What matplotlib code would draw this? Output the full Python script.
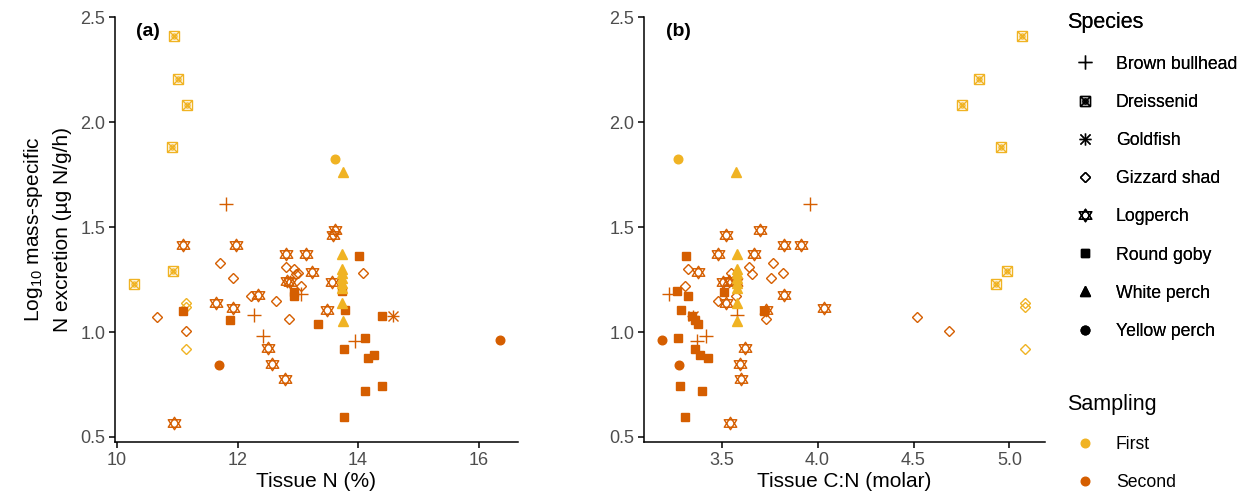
import numpy as np
import matplotlib.pyplot as plt
from matplotlib.lines import Line2D
from matplotlib.path import Path

plt.rcParams['font.family'] = ['Liberation Sans', 'DejaVu Sans']

# each species: tissue N (%), tissue C:N (molar), log10 N excretion, sampling (1 first, 2 second)
bullhead_n = [11.81, 12.27, 12.43, 13.06, 13.95]
bullhead_cn = [3.96, 3.58, 3.42, 3.225, 3.37]
bullhead_exc = [1.61, 1.08, 0.98, 1.18, 0.957]
bullhead_samp = [2, 2, 2, 2, 2]

dreissenid_n = [10.945, 11.01, 11.16, 10.91, 10.93, 10.29]
dreissenid_cn = [5.064, 4.84, 4.75, 4.957, 4.988, 4.93]
dreissenid_exc = [2.41, 2.205, 2.08, 1.88, 1.29, 1.23]
dreissenid_samp = [1, 1, 1, 1, 1, 1]

goldfish_n = [14.58]
goldfish_cn = [3.35]
goldfish_exc = [1.078]
goldfish_samp = [2]

shad_n = [11.15, 11.15, 11.15, 11.71, 12.80, 12.94, 13.0, 14.08, 12.97, 11.92,
          13.06, 12.23, 12.63, 12.85, 10.67, 11.15]
shad_cn = [5.08, 5.08, 5.08, 3.766, 3.645, 3.325, 3.55, 3.82, 3.66, 3.758,
           3.308, 3.576, 3.48, 3.73, 4.52, 4.685]
shad_exc = [1.14, 1.12, 0.92, 1.33, 1.31, 1.30, 1.28, 1.28, 1.275, 1.256,
            1.22, 1.17, 1.148, 1.062, 1.07, 1.006]
shad_samp = [1, 1, 1, 2, 2, 2, 2, 2, 2, 2, 2, 2, 2, 2, 2, 2]

logperch_n = [13.62, 13.59, 11.09, 11.97, 12.80, 13.13, 13.23, 12.87, 12.82, 13.57,
              12.34, 11.65, 11.92, 13.49, 12.51, 12.58, 12.79, 10.95]
logperch_cn = [3.70, 3.524, 3.827, 3.914, 3.48, 3.67, 3.377, 3.507, 3.54, 3.576,
               3.827, 3.524, 4.035, 3.73, 3.62, 3.597, 3.602, 3.545]
logperch_exc = [1.486, 1.46, 1.414, 1.414, 1.372, 1.372, 1.284, 1.24, 1.245, 1.24,
                1.176, 1.14, 1.116, 1.105, 0.922, 0.846, 0.775, 0.568]
logperch_samp = [2] * 18

goby_n = [14.01, 12.94, 13.74, 12.94, 13.78, 11.09, 14.40, 11.87, 13.34, 14.12,
          13.77, 14.27, 14.16, 14.39, 14.12, 13.76]
goby_cn = [3.315, 3.51, 3.268, 3.325, 3.287, 3.72, 3.348, 3.36, 3.377, 3.273,
           3.36, 3.386, 3.43, 3.284, 3.395, 3.31]
goby_exc = [1.36, 1.19, 1.195, 1.17, 1.105, 1.10, 1.078, 1.055, 1.037, 0.97,
            0.918, 0.89, 0.875, 0.743, 0.72, 0.594]
goby_samp = [2] * 16

whiteperch_n = [13.75, 13.73, 13.73, 13.73, 13.73, 13.73, 13.73, 13.74, 13.75]
whiteperch_cn = [3.576, 3.58, 3.58, 3.58, 3.58, 3.58, 3.58, 3.58, 3.58]
whiteperch_exc = [1.76, 1.37, 1.30, 1.28, 1.257, 1.233, 1.21, 1.138, 1.053]
whiteperch_samp = [1] * 9

yellowperch_n = [13.62, 11.70, 16.35]
yellowperch_cn = [3.275, 3.28, 3.19]
yellowperch_exc = [1.825, 0.843, 0.963]
yellowperch_samp = [1, 2, 2]

species_names = ['Brown bullhead', 'Dreissenid', 'Goldfish', 'Gizzard shad',
                 'Logperch', 'Round goby', 'White perch', 'Yellow perch']
sampling_names = ['First', 'Second']
sampling_colors = {1: '#F0B323', 2: '#D55E00'}

species_data = [
    (bullhead_n, bullhead_cn, bullhead_exc, bullhead_samp),
    (dreissenid_n, dreissenid_cn, dreissenid_exc, dreissenid_samp),
    (goldfish_n, goldfish_cn, goldfish_exc, goldfish_samp),
    (shad_n, shad_cn, shad_exc, shad_samp),
    (logperch_n, logperch_cn, logperch_exc, logperch_samp),
    (goby_n, goby_cn, goby_exc, goby_samp),
    (whiteperch_n, whiteperch_cn, whiteperch_exc, whiteperch_samp),
    (yellowperch_n, yellowperch_cn, yellowperch_exc, yellowperch_samp),
]

# star of David (two overlapping triangles, like R pch 11)
_b = 0.6
hexagram = Path([(0, 1), (-1, -_b), (1, -_b), (0, 1), (0, -1), (-1, _b), (1, _b), (0, -1)],
                [Path.MOVETO, Path.LINETO, Path.LINETO, Path.CLOSEPOLY,
                 Path.MOVETO, Path.LINETO, Path.LINETO, Path.CLOSEPOLY])

# marker layers per species: (marker, size, filled)
marker_layers = {
    'Brown bullhead': [('+', 9.5, False)],
    'Dreissenid': [('s', 6.5, False), ('x', 6.5, False), ('o', 3.6, False)],
    'Goldfish': [('+', 9, False), ('x', 6.6, False)],
    'Gizzard shad': [('D', 5.6, False)],
    'Logperch': [(hexagram, 9, False)],
    'Round goby': [('s', 6.3, True)],
    'White perch': [('^', 7.2, True)],
    'Yellow perch': [('o', 6.2, True)],
}


def markerLines(_name, _color, _x=(), _y=()):
    _lines = []
    for _m, _ms, _filled in marker_layers[_name]:
        _lines.append(Line2D(list(_x), list(_y), linestyle='none', marker=_m, markersize=_ms,
                             markerfacecolor=_color if _filled else 'none',
                             markeredgecolor=_color, markeredgewidth=1.0))
    return _lines


def drawSpecies(_ax, _x, _y, _name, _color):
    for _line in markerLines(_name, _color, _x, _y):
        _ax.add_line(_line)


def styleAxis(_ax):
    _ax.spines['top'].set_visible(False)
    _ax.spines['right'].set_visible(False)
    _ax.spines['left'].set_linewidth(1.1)
    _ax.spines['bottom'].set_linewidth(1.1)
    _ax.tick_params(length=4, width=1.1, labelsize=13, labelcolor='#4D4D4D', pad=3)
    _ax.set_ylim(0.476, 2.502)
    _ax.set_yticks([0.5, 1.0, 1.5, 2.0, 2.5])
    _ax.set_yticklabels(['0.5', '1.0', '1.5', '2.0', '2.5'])


fig = plt.figure(figsize=(12.47, 4.98), dpi=100)
axA = fig.add_axes([0.0922, 0.1124, 0.3232, 0.8542])
axB = fig.add_axes([0.5164, 0.1124, 0.3216, 0.8542])

for _name, (_n, _cn, _exc, _samp) in zip(species_names, species_data):
    for _s in (2, 1):
        _idx = [i for i in range(len(_samp)) if _samp[i] == _s]
        if not _idx:
            continue
        drawSpecies(axA, [_n[i] for i in _idx], [_exc[i] for i in _idx], _name, sampling_colors[_s])
        drawSpecies(axB, [_cn[i] for i in _idx], [_exc[i] for i in _idx], _name, sampling_colors[_s])

styleAxis(axA)
styleAxis(axB)
axA.set_xlim(9.966, 16.654)
axA.set_xticks([10, 12, 14, 16])
axB.set_xlim(3.095, 5.185)
axB.set_xticks([3.5, 4.0, 4.5, 5.0])
axB.set_xticklabels(['3.5', '4.0', '4.5', '5.0'])

axA.set_xlabel('Tissue N (%)', fontsize=15, labelpad=2)
axB.set_xlabel('Tissue C:N (molar)', fontsize=15, labelpad=2)
axA.set_ylabel('Log$_{\\mathregular{10}}$ mass-specific\nN excretion (\u00b5g N/g/h)',
               fontsize=15, linespacing=1.55, labelpad=6)

axA.text(0.052, 0.985, '(a)', transform=axA.transAxes, fontsize=14,
         fontweight='bold', va='top')
axB.text(0.055, 0.985, '(b)', transform=axB.transAxes, fontsize=14,
         fontweight='bold', va='top')

# legends
sp_handles = [tuple(markerLines(_name, 'black')) for _name in species_names]
leg1 = fig.legend(sp_handles, species_names, loc='upper left',
                  bbox_to_anchor=(0.856, 0.975), frameon=False, fontsize=12.7,
                  title='Species', title_fontsize=15.5, alignment='left',
                  handlelength=2.0, handletextpad=0.75, labelspacing=1.2,
                  borderpad=0, borderaxespad=0)
leg1._legend_box.sep = 16
fig.add_artist(leg1)

samp_handles = [Line2D([], [], linestyle='none', marker='o', markersize=6.2,
                       markerfacecolor=sampling_colors[k], markeredgecolor=sampling_colors[k])
                for k in (1, 2)]
leg2 = fig.legend(samp_handles, sampling_names, loc='upper left',
                  bbox_to_anchor=(0.856, 0.208), frameon=False, fontsize=12.7,
                  title='Sampling', title_fontsize=15.5, alignment='left',
                  handlelength=2.0, handletextpad=0.75, labelspacing=1.2,
                  borderpad=0, borderaxespad=0)
leg2._legend_box.sep = 15

fig.savefig('out.png', dpi=100)
